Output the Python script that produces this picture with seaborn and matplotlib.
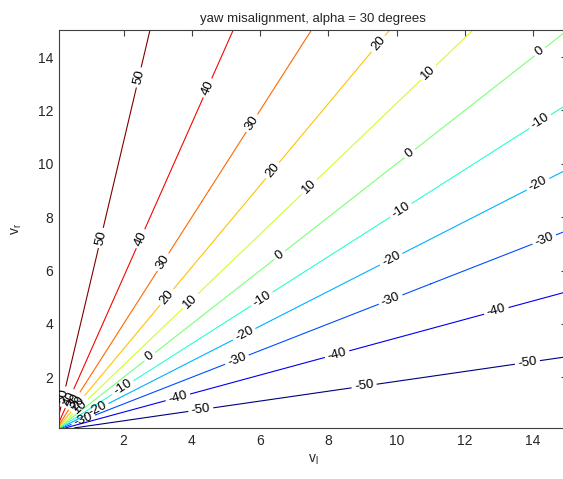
import numpy as np
import matplotlib
matplotlib.use("Agg")
import matplotlib.pyplot as plt
import seaborn as sns

# chart values
alpha_deg = 30
levels = [-50, -40, -30, -20, -10, 0, 10, 20, 30, 40, 50]
v_min, v_max = 0.1, 15.0
ticks = [2, 4, 6, 8, 10, 12, 14]

sns.set_theme(style="white")
plt.rcParams['font.family'] = ['Liberation Sans', 'DejaVu Sans']
plt.rcParams['mathtext.fontset'] = 'custom'
plt.rcParams['mathtext.rm'] = 'Liberation Sans'

# yaw misalignment over the (v_l, v_r) grid
v = np.linspace(v_min, v_max, 150)
VL, VR = np.meshgrid(v, v)
Z = np.degrees(np.arctan((VR - VL) / ((VR + VL) * np.tan(np.radians(alpha_deg)))))

fig = plt.figure(figsize=(5.63, 4.79), dpi=100)
ax = fig.add_axes([0.1043, 0.1065, 0.903, 0.830])
ax.set_xlim(v_min, v_max)
ax.set_ylim(v_min, v_max)

# colours span the level range, like MATLAB's jet contour
cs = ax.contour(VL, VR, Z, levels=levels, cmap="jet", linewidths=0.8)

# label placement along each ray, spaced like MATLAB's clabel (pixels)
label_start = {50: 198, 40: 210, 30: 200, 20: 174, 10: 187, 0: 120,
               -10: 80, -20: 47, -30: 30, -40: 127, -50: 147}
spacing = 165
px_x = ax.bbox.width / (v_max - v_min)
px_y = ax.bbox.height / (v_max - v_min)
positions = []
for lev in levels:
    q = np.tan(np.radians(lev)) * np.tan(np.radians(alpha_deg))
    r = (1 + q) / (1 - q)
    dx, dy = px_x, px_y * r
    n = np.hypot(dx, dy)
    dists = [label_start[lev] + spacing * k for k in range(6)]
    if lev > 0:
        dists = [35] + dists
    for d in dists:
        x = d * dx / n / px_x
        y = d * dy / n / px_y
        if x < v_max - 0.35 and y < v_max - 0.35:
            positions.append((x, y))

ax.clabel(cs, levels, manual=positions, inline=True, fmt='%d',
          fontsize=9.5, colors='black', inline_spacing=3)

ax.set_xticks(ticks)
ax.set_yticks(ticks)
ax.tick_params(direction='in', top=True, right=True, length=4, width=0.8,
               color='#404040', labelsize=10, pad=4)
for sp in ax.spines.values():
    sp.set_color('#404040')
    sp.set_linewidth(0.8)

ax.set_title("yaw misalignment, alpha = 30 degrees", fontsize=9.5, pad=6)
ax.set_xlabel(r'$\mathrm{v_l}$', fontsize=10, labelpad=4)
ax.set_ylabel(r'$\mathrm{v_r}$', fontsize=10, labelpad=10)

fig.savefig("out.png", dpi=100, facecolor='white')
